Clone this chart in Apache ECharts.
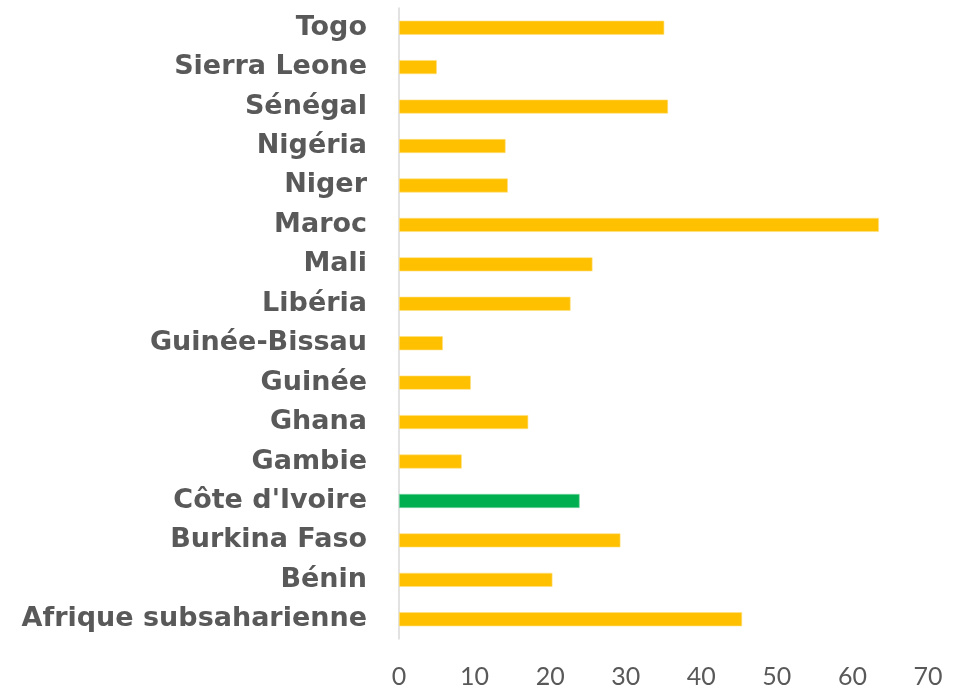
<!DOCTYPE html>
<html>
<head>
<meta charset="utf-8">
<script src="https://cdn.jsdelivr.net/npm/echarts@6/dist/echarts.min.js"></script>
<style>
  html, body { margin: 0; padding: 0; background: #fff; }
  #chart { width: 963px; height: 692px; }
</style>
</head>
<body>
<div id="chart"></div>
<script>
// categories, bottom to top
var countries = ['Afrique subsaharienne', 'Bénin', 'Burkina Faso', "Côte d'Ivoire", 'Gambie', 'Ghana',
  'Guinée', 'Guinée-Bissau', 'Libéria', 'Mali', 'Maroc', 'Niger', 'Nigéria', 'Sénégal', 'Sierra Leone', 'Togo']
var values = [45.4, 20.3, 29.3, 23.9, 8.3, 17.1, 9.5, 5.8, 22.7, 25.6, 63.5, 14.4, 14.1, 35.6, 5.0, 35.1]
var highlight = "Côte d'Ivoire"

var chart = echarts.init(document.getElementById('chart'))
chart.setOption({
  animation: false,
  grid: {
    left: 399,
    right: 35,
    top: 8,
    bottom: 53,
    containLabel: false
  },
  xAxis: {
    type: 'value',
    min: 0,
    max: 70,
    interval: 10,
    axisLine: { show: false },
    axisTick: { show: false },
    splitLine: { show: false },
    axisLabel: {
      color: '#595959',
      fontFamily: 'Lato',
      fontSize: 25,
      margin: 25
    }
  },
  yAxis: {
    type: 'category',
    data: countries,
    axisTick: { show: false },
    axisLine: { show: true, lineStyle: { color: '#d9d9d9', width: 1.5 } },
    axisLabel: {
      color: '#595959',
      fontFamily: 'DejaVu Sans',
      fontWeight: 'bold',
      fontSize: 27,
      margin: 32
    }
  },
  series: [{
    type: 'bar',
    barWidth: 14,
    data: values.map(function (v, i) {
      var green = countries[i] === highlight
      return {
        value: v,
        itemStyle: {
          color: green ? '#00B050' : '#FFC000',
          borderColor: green ? '#7fd7a7' : '#ffe080',
          borderWidth: 0.6
        }
      }
    })
  }]
})
</script>
</body>
</html>
